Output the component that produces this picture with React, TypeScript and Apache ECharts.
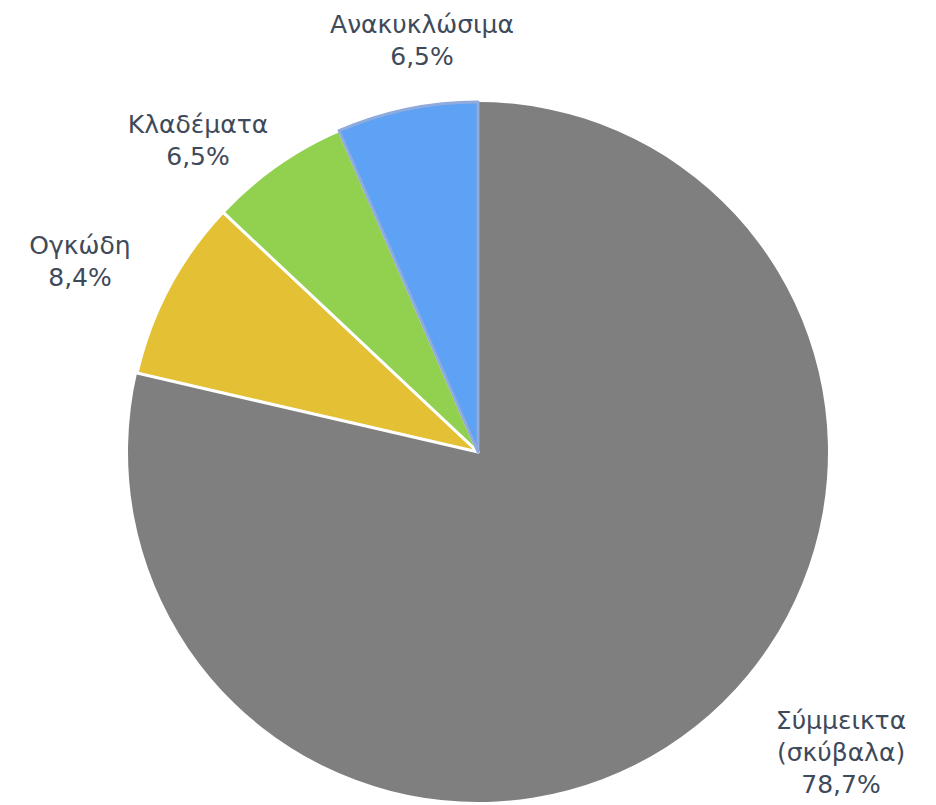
import React, { useEffect, useRef } from "react";
import * as echarts from "echarts";

const categories = ["Σύμμεικτα\n(σκύβαλα)", "Ογκώδη", "Κλαδέματα", "Ανακυκλώσιμα"];
const values = [78.7, 8.4, 6.5, 6.5];
const colors = ["#7F7F7F", "#E4C034", "#92D050", "#5DA2F4"];
const borderColors = ["#7F7F7F", "#FFFFFF", "#FFFFFF", "#8FAADC"];
const borderWidths = [0, 3, 3, 3];
// label centres (text placement only)
const labelCenters: [number, number][] = [
  [841, 752],
  [80, 261],
  [198, 140],
  [422, 40],
];

export default function App() {
  const ref = useRef<HTMLDivElement>(null);
  useEffect(() => {
    document.body.style.margin = "0";
    if (!ref.current) return;
    const chart = echarts.init(ref.current, null, { renderer: "svg" });
    chart.setOption({
      animation: false,
      backgroundColor: "#FFFFFF",
      series: [
        {
          type: "pie",
          center: [478, 452],
          radius: 350,
          startAngle: 90,
          clockwise: true,
          data: categories.map((name, i) => ({
            name,
            value: values[i],
            itemStyle: {
              color: colors[i],
              borderColor: borderColors[i],
              borderWidth: borderWidths[i],
            },
          })),
          label: {
            show: true,
            position: "outside",
            formatter: (p: any) => `${p.name}\n${p.value.toFixed(1).replace(".", ",")}%`,
            fontFamily: "DejaVu Sans",
            fontSize: 25,
            lineHeight: 32,
            color: "#3E4A59",
            align: "center",
          },
          labelLine: { show: false },
          labelLayout: (params: any) => ({
            x: labelCenters[params.dataIndex][0],
            y: labelCenters[params.dataIndex][1],
            align: "center",
            verticalAlign: "middle",
          }),
          emphasis: { disabled: true },
        },
      ],
    });
    return () => chart.dispose();
  }, []);
  return <div ref={ref} style={{ width: 936, height: 805 }} />;
}
